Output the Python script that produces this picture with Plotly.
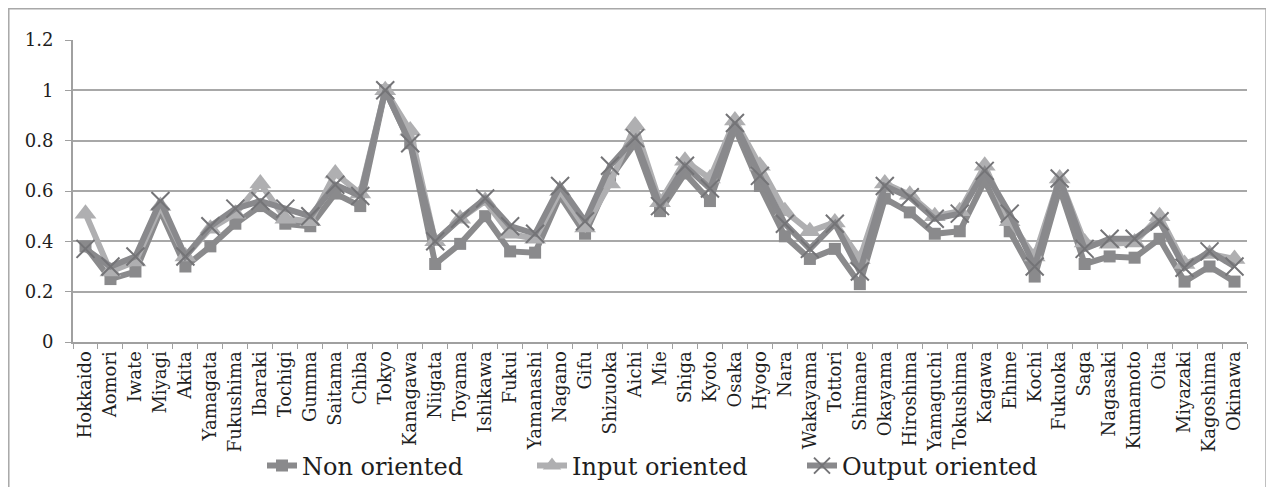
import plotly.graph_objects as go

prefectures = ["Hokkaido","Aomori","Iwate","Miyagi","Akita","Yamagata","Fukushima","Ibaraki","Tochigi","Gumma",
    "Saitama","Chiba","Tokyo","Kanagawa","Niigata","Toyama","Ishikawa","Fukui","Yamanashi","Nagano",
    "Gifu","Shizuoka","Aichi","Mie","Shiga","Kyoto","Osaka","Hyogo","Nara","Wakayama",
    "Tottori","Shimane","Okayama","Hiroshima","Yamaguchi","Tokushima","Kagawa","Ehime","Kochi","Fukuoka",
    "Saga","Nagasaki","Kumamoto","Oita","Miyazaki","Kagoshima","Okinawa"]

non_oriented = [0.38,0.25,0.28,0.52,0.30,0.38,0.47,0.54,0.47,0.46,
    0.59,0.54,1.0,0.79,0.31,0.39,0.50,0.36,0.355,0.58,
    0.43,0.65,0.79,0.52,0.67,0.56,0.85,0.62,0.42,0.33,
    0.37,0.23,0.57,0.515,0.43,0.44,0.64,0.44,0.26,0.61,
    0.31,0.34,0.335,0.41,0.24,0.30,0.24]

input_oriented = [0.51,0.28,0.32,0.54,0.34,0.45,0.51,0.63,0.49,0.48,
    0.67,0.59,1.0,0.84,0.40,0.49,0.56,0.43,0.41,0.60,
    0.455,0.63,0.86,0.555,0.72,0.65,0.88,0.70,0.52,0.44,
    0.475,0.33,0.63,0.585,0.50,0.52,0.70,0.48,0.34,0.65,
    0.395,0.39,0.395,0.50,0.31,0.35,0.33]

output_oriented = [0.37,0.30,0.34,0.56,0.34,0.46,0.53,0.56,0.53,0.50,
    0.625,0.58,1.0,0.79,0.40,0.49,0.57,0.46,0.43,0.62,
    0.48,0.70,0.81,0.54,0.70,0.61,0.87,0.66,0.47,0.37,
    0.47,0.28,0.62,0.575,0.49,0.51,0.68,0.51,0.30,0.65,
    0.37,0.41,0.41,0.48,0.295,0.36,0.30]

y_ticks = [0, 0.2, 0.4, 0.6, 0.8, 1, 1.2]
y_tick_text = ["0", "0.2", "0.4", "0.6", "0.8", "1", "1.2"]

FONT = "DejaVu Serif"
TXT = "#1e1e1e"

fig = go.Figure()
fig.add_trace(go.Scatter(
    x=prefectures, y=non_oriented, name="Non oriented", mode="lines+markers",
    line=dict(color="#8a8a8c", width=6),
    marker=dict(symbol="square", size=12, color="#8a8a8c")))
fig.add_trace(go.Scatter(
    x=prefectures, y=input_oriented, name="Input oriented", mode="lines+markers",
    line=dict(color="#afafb1", width=6),
    marker=dict(symbol="triangle-up", size=19, color="#afafb1")))
fig.add_trace(go.Scatter(
    x=prefectures, y=output_oriented, name="Output oriented", mode="lines+markers",
    line=dict(color="#89898c", width=6),
    marker=dict(symbol="x-thin", size=18, line=dict(color="#747477", width=2))))

fig.update_layout(
    width=1266, height=479,
    margin=dict(l=65, r=27, t=32, b=145, autoexpand=False),
    paper_bgcolor="white", plot_bgcolor="white",
    font=dict(family=FONT, color=TXT),
    showlegend=True,
    legend=dict(orientation="h", xref="container", x=254 / 1266, xanchor="left",
                yref="container", y=1 - 458 / 479, yanchor="middle",
                entrywidth=225, entrywidthmode="pixels",
                font=dict(family=FONT, size=24, color=TXT),
                traceorder="normal", bgcolor="rgba(0,0,0,0)"),
    xaxis=dict(type="category", tickangle=-90, tickfont=dict(family=FONT, size=18, color=TXT),
               showgrid=False, showline=True, linecolor="#a0a0a0", linewidth=2,
               ticks="outside", tickson="boundaries", ticklen=5, tickcolor="#a0a0a0",
               range=[-0.5, len(prefectures) - 0.5], automargin=False),
    yaxis=dict(range=[0, 1.2], tickvals=y_ticks, ticktext=y_tick_text,
               tickfont=dict(family=FONT, size=18, color=TXT), ticklabelstandoff=8,
               showgrid=True, gridcolor="#a8a8a8", gridwidth=1.5,
               showline=True, linecolor="#a0a0a0", linewidth=2,
               ticks="outside", ticklen=6, tickcolor="#a0a0a0", zeroline=False,
               automargin=False),
)

fig.add_shape(type="rect", xref="paper", yref="paper",
              x0=-0.0547, x1=1.0162, y0=-0.49, y1=1.1035,
              line=dict(color="#a8a8a8", width=1.5), fillcolor="rgba(0,0,0,0)", layer="below")

fig.write_html("out.html")
